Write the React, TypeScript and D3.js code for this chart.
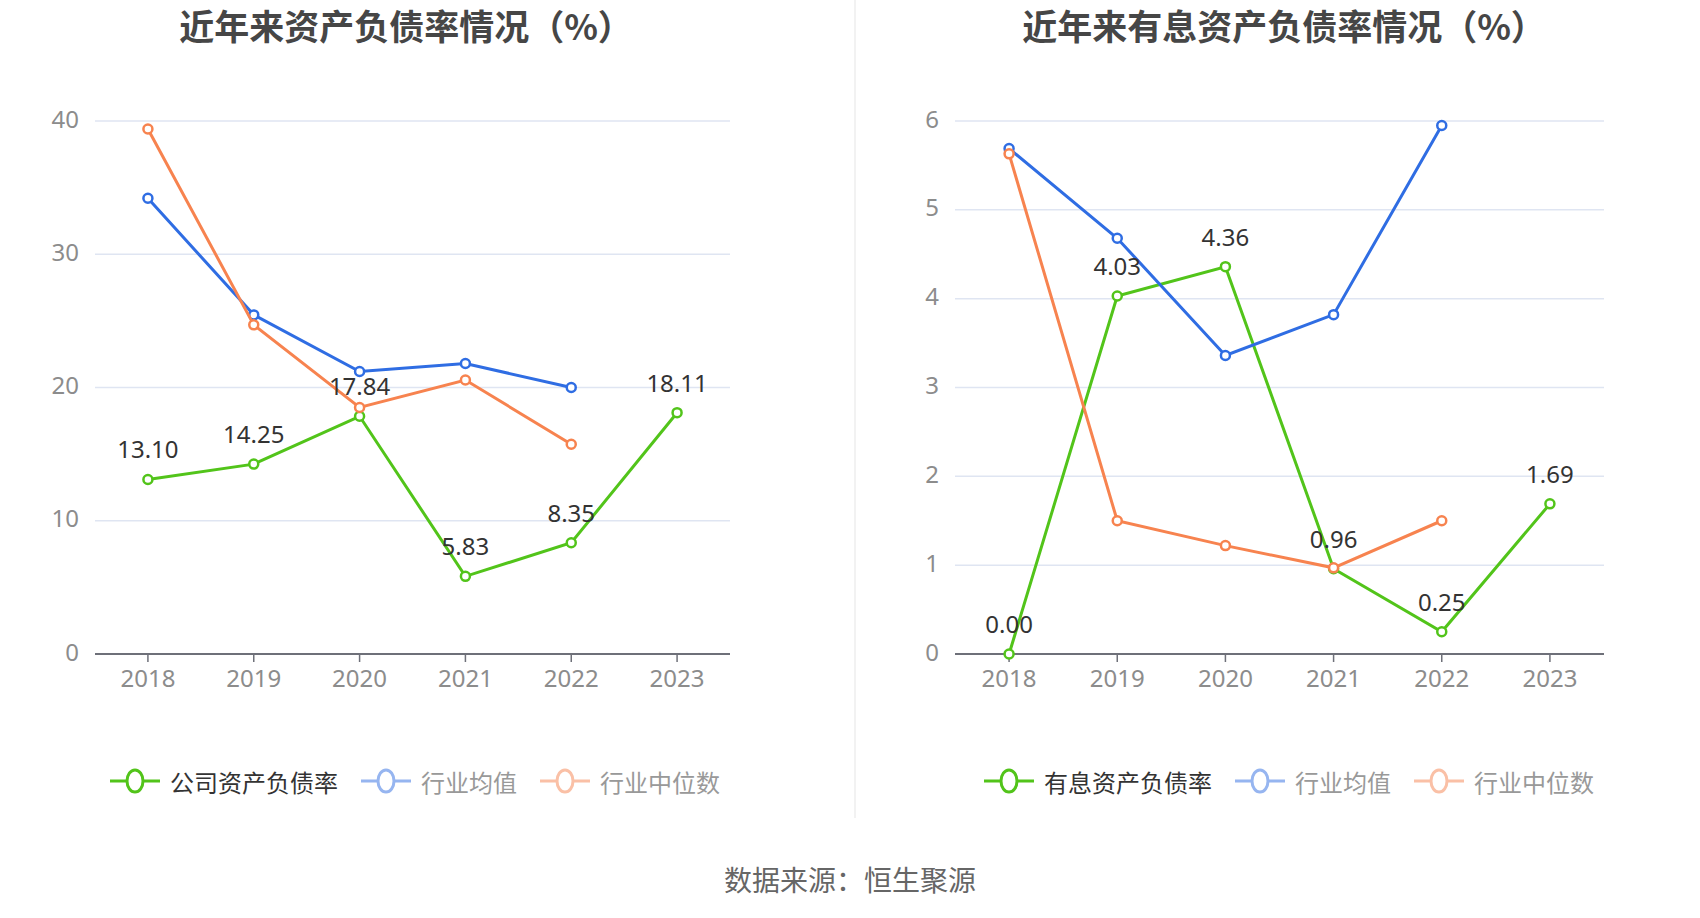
import * as d3 from "d3";

const years = ["2018", "2019", "2020", "2021", "2022", "2023"];

// 左图：资产负债率
const debtCompany = [13.1, 14.25, 17.84, 5.83, 8.35, 18.11];
const debtAvg = [34.2, 25.45, 21.2, 21.8, 20.0];
const debtMedian = [39.4, 24.7, 18.5, 20.56, 15.74];
const debtTicks = [0, 10, 20, 30, 40];

// 右图：有息资产负债率
const interestCompany = [0.0, 4.03, 4.36, 0.96, 0.25, 1.69];
const interestAvg = [5.69, 4.68, 3.36, 3.82, 5.95];
const interestMedian = [5.63, 1.5, 1.22, 0.97, 1.5];
const interestTicks = [0, 1, 2, 3, 4, 5, 6];

const GREEN = "#52c41a";
const BLUE = "#2f6de3";
const ORANGE = "#f7834f";
const FONT = '"Noto Sans", "Noto Sans CJK SC", sans-serif';
const CJK = '"Noto Sans CJK SC", "Noto Sans", sans-serif';

const TOP = 121;
const BOTTOM = 654;
const LEGEND_Y = 781;

interface Series {
  name: string;
  color: string;
  values: number[];
  labels?: boolean;
  faded?: boolean;
}

interface PanelProps {
  title: string;
  titleX: number;
  x0: number;
  x1: number;
  ticks: number[];
  series: Series[];
  legendX: number;
}

const Panel = ({ title, titleX, x0, x1, ticks, series, legendX }: PanelProps) => {
  const x = d3.scalePoint<string>().domain(years).range([x0, x1]).padding(0.5);
  const y = d3
    .scaleLinear()
    .domain([0, ticks[ticks.length - 1]])
    .range([BOTTOM, TOP]);

  const line = d3
    .line<number>()
    .x((_, i) => x(years[i]) as number)
    .y((d) => y(d));

  // legend layout
  let cursor = legendX;
  const legendItems = series.map((s) => {
    const item = { s, x: cursor };
    cursor += 50 + 10 + s.name.length * 24 + 23;
    return item;
  });

  return (
    <g>
      <text
        x={titleX}
        y={40}
        textAnchor="middle"
        fontFamily={CJK}
        fontWeight="bold"
        fontSize={35}
        fill="#464646"
      >
        {title}
      </text>

      {ticks.map((t) => (
        <g key={t}>
          {t > 0 && (
            <line x1={x0} x2={x1} y1={y(t)} y2={y(t)} stroke="#dfe5f2" strokeWidth={1.5} />
          )}
          <text
            x={x0 - 16}
            y={y(t) - 3}
            textAnchor="end"
            dominantBaseline="central"
            fontFamily={FONT}
            fontSize={24}
            fill="#8c8c8c"
          >
            {t}
          </text>
        </g>
      ))}

      <line x1={x0} x2={x1} y1={BOTTOM} y2={BOTTOM} stroke="#6e7079" strokeWidth={2} />
      {years.map((yr) => (
        <g key={yr}>
          <line
            x1={x(yr)}
            x2={x(yr)}
            y1={BOTTOM}
            y2={BOTTOM + 8}
            stroke="#6e7079"
            strokeWidth={1.5}
          />
          <text
            x={x(yr)}
            y={BOTTOM + 33}
            textAnchor="middle"
            fontFamily={FONT}
            fontSize={24}
            fill="#8c8c8c"
          >
            {yr}
          </text>
        </g>
      ))}

      {series.map((s) => (
        <g key={s.name}>
          <path d={line(s.values) || ""} fill="none" stroke={s.color} strokeWidth={3} />
          {s.values.map((v, i) => (
            <circle
              key={i}
              cx={x(years[i])}
              cy={y(v)}
              r={4.5}
              fill="#fff"
              stroke={s.color}
              strokeWidth={2.5}
            />
          ))}
        </g>
      ))}

      {series
        .filter((s) => s.labels)
        .map((s) =>
          s.values.map((v, i) => (
            <text
              key={s.name + i}
              x={x(years[i])}
              y={y(v) - 21}
              textAnchor="middle"
              fontFamily={FONT}
              fontSize={24}
              fill="#333"
            >
              {v.toFixed(2)}
            </text>
          ))
        )}

      {legendItems.map(({ s, x: lx }) => (
        <g key={s.name} opacity={s.faded ? 0.5 : 1}>
          <line
            x1={lx}
            x2={lx + 50}
            y1={LEGEND_Y}
            y2={LEGEND_Y}
            stroke={s.color}
            strokeWidth={3}
          />
          <ellipse
            cx={lx + 25}
            cy={LEGEND_Y}
            rx={8}
            ry={11}
            fill="#fff"
            stroke={s.color}
            strokeWidth={3}
          />
        </g>
      ))}
      {legendItems.map(({ s, x: lx }) => (
        <text
          key={s.name + "t"}
          x={lx + 60}
          y={LEGEND_Y}
          dominantBaseline="central"
          fontFamily={CJK}
          fontSize={24}
          fill={s.faded ? "#999" : "#333"}
        >
          {s.name}
        </text>
      ))}
    </g>
  );
};

export default function App() {
  return (
    <svg
      width={1700}
      height={918}
      style={{ position: "absolute", left: 0, top: 0, background: "#fff" }}
    >
      <rect width={1700} height={918} fill="#fff" />
      <line x1={855} x2={855} y1={0} y2={818} stroke="#eeeeee" strokeWidth={1.5} />

      <Panel
        title="近年来资产负债率情况（%）"
        titleX={406}
        x0={95}
        x1={730}
        ticks={debtTicks}
        legendX={110}
        series={[
          { name: "公司资产负债率", color: GREEN, values: debtCompany, labels: true },
          { name: "行业均值", color: BLUE, values: debtAvg, faded: true },
          { name: "行业中位数", color: ORANGE, values: debtMedian, faded: true },
        ]}
      />
      <Panel
        title="近年来有息资产负债率情况（%）"
        titleX={1284}
        x0={955}
        x1={1604}
        ticks={interestTicks}
        legendX={984}
        series={[
          { name: "有息资产负债率", color: GREEN, values: interestCompany, labels: true },
          { name: "行业均值", color: BLUE, values: interestAvg, faded: true },
          { name: "行业中位数", color: ORANGE, values: interestMedian, faded: true },
        ]}
      />

      <text
        x={850}
        y={879}
        textAnchor="middle"
        dominantBaseline="central"
        fontFamily={CJK}
        fontSize={28}
        fill="#666"
      >
        数据来源：恒生聚源
      </text>
    </svg>
  );
}
